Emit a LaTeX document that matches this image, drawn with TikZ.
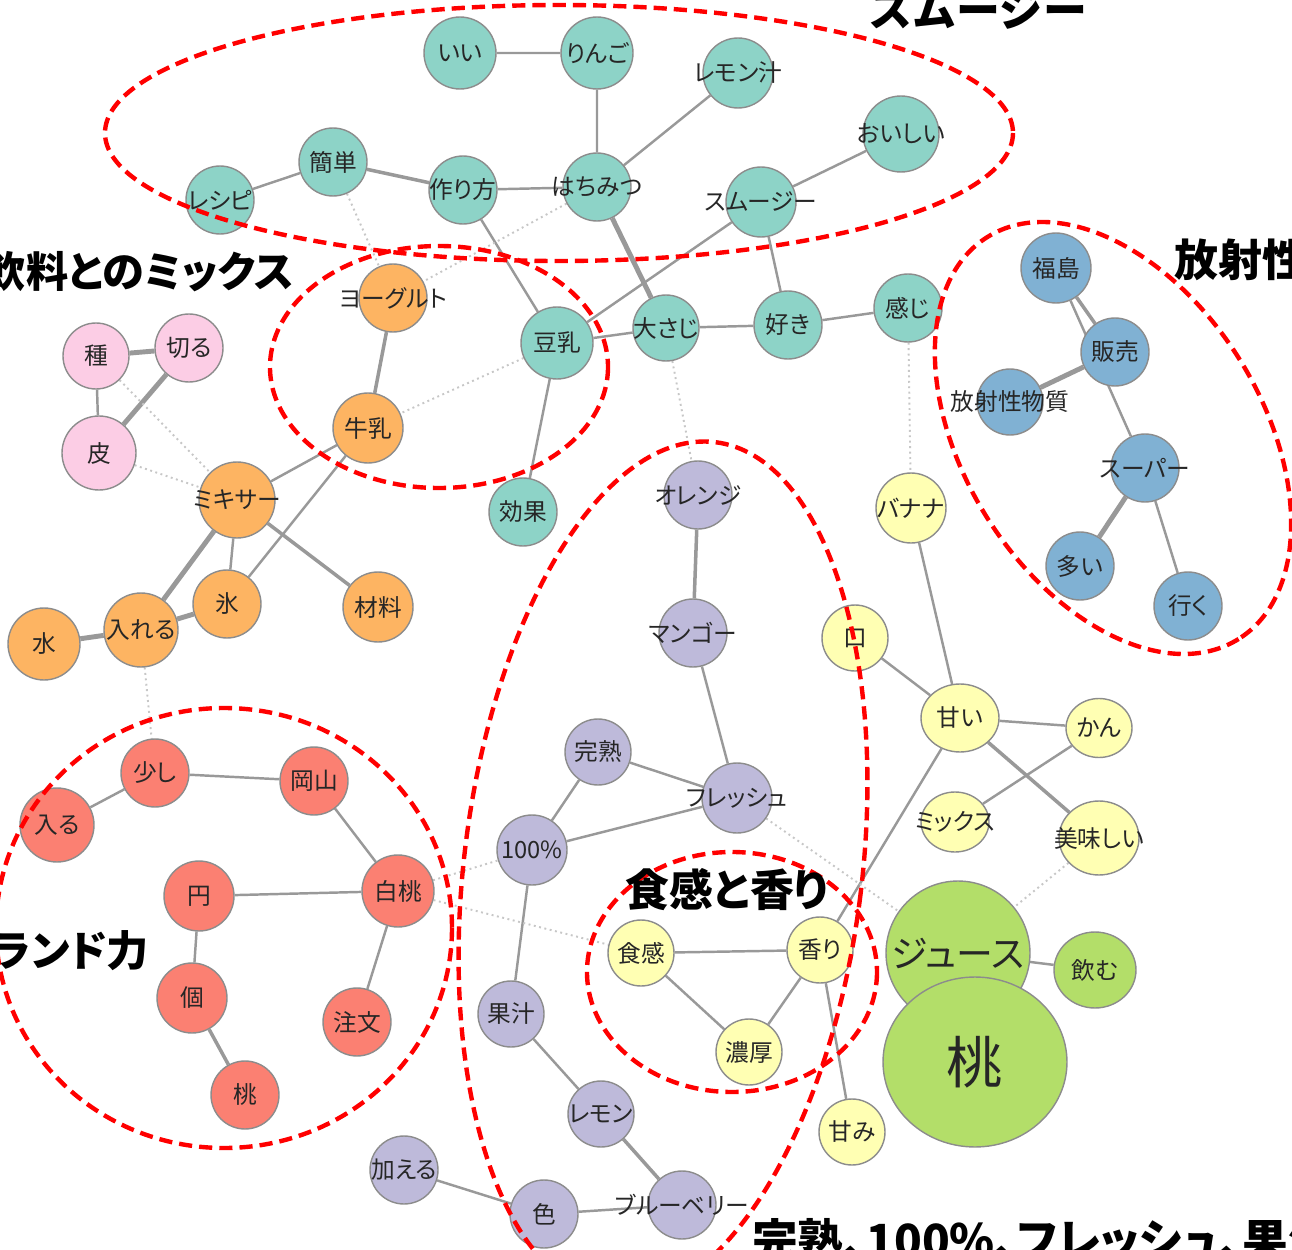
\documentclass[tikz,border=0pt]{standalone}
\usepackage{fontspec}
\usetikzlibrary{backgrounds,shapes.geometric}
\newfontfamily\jpfont[RawFeature=+palt]{Noto Sans CJK JP}
\newfontfamily\jphead{Noto Sans CJK JP}
\definecolor{cteal}{HTML}{8DD3C7}
\definecolor{corange}{HTML}{FDB462}
\definecolor{cpink}{HTML}{FCCDE5}
\definecolor{csalmon}{HTML}{FB8072}
\definecolor{cpurple}{HTML}{BEBADA}
\definecolor{cyellow}{HTML}{FFFFB3}
\definecolor{cblue}{HTML}{80B1D3}
\definecolor{cgreen}{HTML}{B3DE69}
\newcommand{\kw}[1]{\makebox[0pt]{#1}}

\begin{document}
\begin{tikzpicture}[x=0.02cm, y=-0.02cm]
    \tikzstyle{every node} = [font=\jpfont\fontsize{13.5}{14}\selectfont, text=black!85]
    \tikzstyle{word} = [circle, draw=black!45, line width=0.8pt, minimum size=1.36cm, inner sep=0pt]
    \tikzstyle{oval} = [ellipse, draw=black!45, line width=0.8pt, inner sep=0pt]
    \tikzstyle{smoothie} = [fill=cteal]
    \tikzstyle{mix} = [fill=corange]
    \tikzstyle{peel} = [fill=cpink]
    \tikzstyle{brand} = [fill=csalmon]
    \tikzstyle{fruit} = [fill=cpurple]
    \tikzstyle{taste} = [fill=cyellow]
    \tikzstyle{radio} = [fill=cblue]
    \tikzstyle{juice} = [fill=cgreen]
    \tikzstyle{link} = [draw=black!40, line width=1.4pt]
    \tikzstyle{weak} = [draw=black!22, line width=1.1pt, dotted]
    \tikzstyle{group} = [draw=red, line width=2.5pt, dash pattern=on 7.5pt off 4pt]
    \tikzstyle{title} = [font=\jphead\bfseries\fontsize{25}{26}\selectfont, text=black]

    \useasboundingbox (0,0) rectangle (1292,1250);
    \clip (0,0) rectangle (1292,1250);

    \node[word, smoothie, minimum size=1.44cm] (ii) at (460,53) {\kw{いい}};
    \node[word, smoothie, minimum size=1.44cm] (ringo) at (597,53) {\kw{りんご}};
    \node[word, smoothie, minimum size=1.4cm] (remonjiru) at (738,73) {\kw{レモン汁}};
    \node[word, smoothie, minimum size=1.52cm] (oishii) at (901,134) {\kw{おいしい}};
    \node[word, smoothie] (kantan) at (333,162) {\kw{簡単}};
    \node[word, smoothie] (recipe) at (220,200) {\kw{レシピ}};
    \node[word, smoothie] (tsukurikata) at (463,190) {\kw{作り方}};
    \node[word, smoothie] (hachimitsu) at (597,187) {\kw{はちみつ}};
    \node[word, smoothie, minimum size=1.4cm] (smoothie) at (761,202) {\kw{スムージー}};
    \node[word, smoothie, minimum size=1.44cm] (tonyu) at (557,343) {\kw{豆乳}};
    \node[word, smoothie, minimum size=1.32cm] (osaji) at (666,328) {\kw{大さじ}};
    \node[word, smoothie] (suki) at (788,325) {\kw{好き}};
    \node[word, smoothie] (kanji) at (908,308) {\kw{感じ}};
    \node[word, smoothie] (koka) at (523,512) {\kw{効果}};

    \node[word, mix] (yogurt) at (393,298) {\kw{ヨーグルト}};
    \node[word, mix, minimum size=1.4cm] (gyunyu) at (368,428) {\kw{牛乳}};
    \node[word, mix, minimum size=1.52cm] (mixer) at (237,500) {\kw{ミキサー}};
    \node[word, mix] (kori) at (227,604) {\kw{氷}};
    \node[word, mix, minimum size=1.4cm] (zairyo) at (378,607) {\kw{材料}};
    \node[word, mix, minimum size=1.48cm] (ireru) at (141,630) {\kw{入れる}};
    \node[word, mix, minimum size=1.44cm] (mizu) at (44,644) {\kw{水}};

    \node[word, peel, minimum size=1.32cm] (tane) at (96,356) {\kw{種}};
    \node[word, peel] (kiru) at (189,348) {\kw{切る}};
    \node[word, peel, minimum size=1.48cm] (kawa) at (99,453) {\kw{皮}};

    \node[word, brand] (sukoshi) at (155,773) {\kw{少し}};
    \node[word, brand] (okayama) at (314,781) {\kw{岡山}};
    \node[word, brand, minimum size=1.48cm] (hairu) at (57,825) {\kw{入る}};
    \node[word, brand, minimum size=1.4cm] (en) at (199,896) {\kw{円}};
    \node[word, brand, minimum size=1.44cm] (hakuto) at (398,891) {\kw{白桃}};
    \node[word, brand, minimum size=1.4cm] (ko) at (192,998) {\kw{個}};
    \node[word, brand] (chumon) at (357,1022) {\kw{注文}};
    \node[word, brand] (momo) at (245,1095) {\kw{桃}};

    \node[word, fruit] (orange) at (698,495) {\kw{オレンジ}};
    \node[word, fruit] (mango) at (693,633) {\kw{マンゴー}};
    \node[word, fruit, minimum size=1.32cm] (kanjuku) at (598,752) {\kw{完熟}};
    \node[word, fruit, minimum size=1.4cm] (fresh) at (737,798) {\kw{フレッシュ}};
    \node[word, fruit, minimum size=1.4cm] (pct) at (532,850) {\kw{100\%}};
    \node[word, fruit, minimum size=1.32cm] (kaju) at (511,1014) {\kw{果汁}};
    \node[word, fruit, minimum size=1.32cm] (lemon) at (601,1114) {\kw{レモン}};
    \node[word, fruit] (blueberry) at (682,1205) {\kw{ブルーベリー}};
    \node[word, fruit] (iro) at (544,1214) {\kw{色}};
    \node[word, fruit] (kuwaeru) at (404,1170) {\kw{加える}};

    \node[word, taste, minimum size=1.4cm] (banana) at (911,508) {\kw{バナナ}};
    \node[word, taste, minimum size=1.32cm] (kuchi) at (855,638) {\kw{口}};
    \node[oval, taste, minimum width=1.56cm, minimum height=1.36cm] (amai) at (960,718) {\kw{甘い}};
    \node[oval, taste, minimum width=1.32cm, minimum height=1.18cm] (kan) at (1099,728) {\kw{かん}};
    \node[oval, taste, minimum width=1.36cm, minimum height=1.2cm] (mixdrink) at (955,822) {\kw{ミックス}};
    \node[oval, taste, minimum width=1.6cm, minimum height=1.48cm] (bimi) at (1099,838) {\kw{美味しい}};
    \node[word, taste, minimum size=1.32cm] (shokkan) at (641,953) {\kw{食感}};
    \node[word, taste, minimum size=1.32cm] (kaori) at (820,950) {\kw{香り}};
    \node[word, taste, minimum size=1.32cm] (noko) at (749,1052) {\kw{濃厚}};
    \node[word, taste, minimum size=1.32cm] (amami) at (852,1132) {\kw{甘み}};

    \node[word, juice, minimum size=2.88cm, font=\jpfont\fontsize{21}{22}\selectfont] (drink) at (958,953) {\kw{ジュース}};
    \node[oval, juice, minimum width=3.68cm, minimum height=3.4cm, font=\jpfont\fontsize{32}{33}\selectfont] (peach) at (975,1062) {\kw{桃}};
    \node[oval, juice, minimum width=1.64cm, minimum height=1.52cm] (nomu) at (1095,970) {\kw{飲む}};

    \node[word, radio, minimum size=1.4cm] (fukushima) at (1056,268) {\kw{福島}};
    \node[word, radio] (hanbai) at (1115,352) {\kw{販売}};
    \node[word, radio, minimum size=1.32cm] (hoshasei) at (1010,402) {\kw{放射性物質}};
    \node[word, radio] (super) at (1145,468) {\kw{スーパー}};
    \node[word, radio] (oi) at (1080,566) {\kw{多い}};
    \node[word, radio] (iku) at (1188,606) {\kw{行く}};

    \begin{scope}[on background layer]
        \draw[link] (ii) -- (ringo) (ringo) -- (hachimitsu) (remonjiru) -- (hachimitsu)
            (recipe) -- (kantan) (tsukurikata) -- (hachimitsu) (tsukurikata) -- (tonyu)
            (smoothie) -- (oishii) (smoothie) -- (tonyu) (smoothie) -- (suki)
            (tonyu) -- (osaji) (osaji) -- (suki) (suki) -- (kanji) (tonyu) -- (koka)
            (gyunyu) -- (mixer) (gyunyu) -- (kori) (mixer) -- (kori) (tane) -- (kawa)
            (hairu) -- (sukoshi) (sukoshi) -- (okayama) (okayama) -- (hakuto)
            (en) -- (hakuto) (en) -- (ko) (hakuto) -- (chumon)
            (mango) -- (fresh) (kanjuku) -- (fresh) (kanjuku) -- (pct) (pct) -- (fresh)
            (pct) -- (kaju) (kaju) -- (lemon) (blueberry) -- (iro) (iro) -- (kuwaeru)
            (shokkan) -- (kaori) (shokkan) -- (noko) (noko) -- (kaori) (kaori) -- (amami)
            (kaori) -- (amai) (kuchi) -- (amai) (banana) -- (amai) (amai) -- (kan)
            (mixdrink) -- (kan) (drink) -- (nomu)
            (fukushima) -- (super) (super) -- (iku);
        \draw[link, line width=2pt] (kantan) -- (tsukurikata) (yogurt) -- (gyunyu)
            (mixer) -- (zairyo) (ko) -- (momo) (orange) -- (mango) (lemon) -- (blueberry)
            (amai) -- (bimi) (fukushima) -- (hanbai);
        \draw[link, line width=2.8pt] (hachimitsu) -- (osaji) (tane) -- (kiru) (kiru) -- (kawa)
            (mixer) -- (ireru) (ireru) -- (kori) (mizu) -- (ireru)
            (hanbai) -- (hoshasei) (super) -- (oi);
        \draw[weak] (kantan) -- (yogurt) (hachimitsu) -- (yogurt) (tonyu) -- (gyunyu)
            (osaji) -- (orange) (kanji) -- (banana) (tane) -- (mixer) (kawa) -- (mixer)
            (ireru) -- (sukoshi) (hakuto) -- (pct) (hakuto) -- (shokkan)
            (fresh) -- (drink) (bimi) -- (drink);
    \end{scope}

    \draw[group] (559,133) ellipse [x radius=454, y radius=128];
    \draw[group] (439,367) ellipse [x radius=169, y radius=121];
    \draw[group, rotate around={-58:(1113,438)}] (1113,438) ellipse [x radius=237, y radius=149];
    \draw[group, rotate around={-7:(663,870)}] (663,870) ellipse [x radius=199, y radius=431];
    \draw[group] (224,928) ellipse [x radius=228, y radius=220];
    \draw[group] (732,972) ellipse [x radius=145, y radius=120];

    \node[title] (tsmoothie) at (978,10) {スムージー};
    \node[title, anchor=west] (tradio) at (1168,260) {放射性物質};
    \node[title, anchor=east, font=\jpfont\bfseries\fontsize{24}{25}\selectfont] (tmix) at (300,272) {飲料とのミックス};
    \node[title, anchor=east, font=\jpfont\bfseries\fontsize{24}{25}\selectfont] (tbrand) at (155,950) {ブランド力};
    \node[title, font=\jpfont\bfseries\fontsize{25}{26}\selectfont] (ttaste) at (727,890) {食感と香り};
    \node[title, anchor=west, font=\jpfont\bfseries\fontsize{26}{27}\selectfont] (tfruit) at (746,1240) {完熟、100\%、フレッシュ、果汁};
\end{tikzpicture}
\end{document}
